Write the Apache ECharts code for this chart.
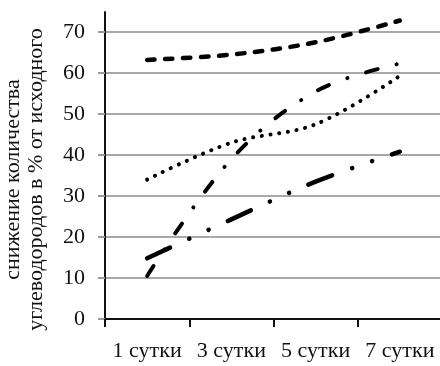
<!DOCTYPE html>
<html>
<head>
<meta charset="utf-8">
<script src="https://cdn.jsdelivr.net/npm/echarts@6/dist/echarts.min.js"></script>
<style>
  html, body { margin: 0; padding: 0; background: #fff; }
  #chart { width: 440px; height: 366px; }
</style>
</head>
<body>
<div id="chart"></div>
<script>
// Days of observation
const categories = ['1 сутки', '3 сутки', '5 сутки', '7 сутки'];

// Hydrocarbon reduction, % of initial amount
const seriesDashed = [63.2, 64.5, 67.5, 72.8];
const seriesDotted = [34.0, 43.0, 47.5, 59.3];
const seriesDashDot = [10.5, 39.0, 55.5, 62.3];
const seriesLongDashDotDot = [14.8, 24.3, 33.5, 40.8];

// Value axis ticks
const yTicks = [0, 10, 20, 30, 40, 50, 60, 70];

const FONT = '"Liberation Serif", "Times New Roman", serif';

const chart = echarts.init(document.getElementById('chart'), null, { renderer: 'canvas' });

function lineSeries(name, data, width, dash) {
  return {
    name: name,
    type: 'line',
    data: data,
    smooth: 0.35,
    symbol: 'none',
    clip: false,
    xAxisIndex: 0,
    yAxisIndex: 0,
    lineStyle: {
      color: '#000',
      width: width,
      type: dash,
      cap: 'round',
      join: 'round'
    },
    z: 5
  };
}

chart.setOption({
  animation: false,
  backgroundColor: '#fff',
  grid: [
    { left: 105, right: -2, top: 32, bottom: 47, containLabel: false, outerBoundsMode: 'none' },
    { left: 105, right: -2, top: 12, bottom: 47, containLabel: false, outerBoundsMode: 'none' }
  ],
  xAxis: [
    {
      type: 'category',
      gridIndex: 0,
      data: categories,
      boundaryGap: true,
      axisLine: { lineStyle: { color: '#111', width: 2 } },
      axisTick: { show: true, length: 8, inside: false, alignWithLabel: false, lineStyle: { color: '#111', width: 2 } },
      axisLabel: { interval: 0, margin: 21, color: '#111', fontSize: 22, fontFamily: FONT, hideOverlap: false },
      splitLine: { show: false }
    },
    { type: 'category', gridIndex: 1, show: false, data: categories }
  ],
  yAxis: [
    {
      type: 'value',
      gridIndex: 0,
      min: yTicks[0],
      max: yTicks[yTicks.length - 1],
      interval: yTicks[1] - yTicks[0],
      name: 'снижение количества\nуглеводородов в % от исходного',
      nameLocation: 'middle',
      nameRotate: 90,
      nameGap: 57,
      nameTextStyle: { color: '#111', fontSize: 22, fontFamily: FONT, lineHeight: 23, padding: [0, 8, 0, 0] },
      axisLine: { show: true, lineStyle: { color: '#111', width: 2 } },
      axisTick: { show: true, length: 7, lineStyle: { color: '#999', width: 2 } },
      axisLabel: { margin: 20, color: '#111', fontSize: 22, fontFamily: FONT },
      splitLine: { show: true, lineStyle: { color: '#a8a8a8', width: 2 } }
    },
    {
      type: 'value',
      gridIndex: 1,
      min: 0,
      max: 1,
      axisLine: { show: true, lineStyle: { color: '#111', width: 2 } },
      axisTick: { show: false },
      axisLabel: { show: false },
      splitLine: { show: false }
    }
  ],
  series: [
    lineSeries('A', seriesDashed, 4.5, [7.5, 10.5]),
    lineSeries('B', seriesDotted, 4, [0.1, 8.7]),
    lineSeries('C', seriesDashDot, 4, [12, 19.5, 0.1, 19.5]),
    lineSeries('D', seriesLongDashDotDot, 4.5, [25.5, 21, 0.1, 21, 0.1, 21])
  ]
});
</script>
</body>
</html>
